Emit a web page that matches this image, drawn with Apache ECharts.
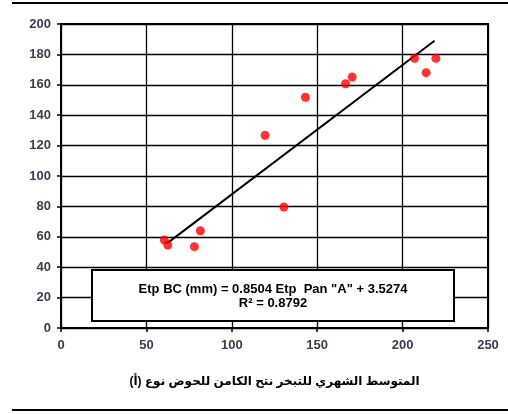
<!DOCTYPE html>
<html><head><meta charset="utf-8">
<script src="https://cdn.jsdelivr.net/npm/echarts@6/dist/echarts.min.js"></script>
<style>html,body{margin:0;padding:0;background:#fff}#c{width:508px;height:414px}</style>
</head><body><div id="c"></div>
<script>
const panX = [60.5, 62.5, 78.1, 81.6, 119.5, 130.5, 143.1, 166.6, 170.5, 207.0, 213.8, 219.5];
const bcY  = [57.9, 54.6, 53.5, 64.0, 126.8, 79.6, 151.8, 160.7, 165.1, 177.4, 168.0, 177.4];
const trendX = [62.1, 218.7];
const trendY = [55.7, 189.0];
const xTicks = [0, 50, 100, 150, 200, 250];
const yTicks = [0, 20, 40, 60, 80, 100, 120, 140, 160, 180, 200];
const eqLine1 = 'Etp BC (mm) = 0.8504 Etp  Pan "A" + 3.5274';
const eqLine2 = 'R² = 0.8792';
const xTitle = 'المتوسط الشهري للتبخر نتح الكامن للحوض نوع (أ)';

const chart = echarts.init(document.getElementById('c'), null, {renderer: 'canvas'});
const font = "'Liberation Sans', Arial, 'DejaVu Sans', sans-serif";
const labelColor = '#3c3c4c';
chart.setOption({
  animation: false,
  backgroundColor: '#fff',
  grid: {left: 61, right: 20, top: 24, bottom: 86, show: true, borderColor: '#000', borderWidth: 2, backgroundColor: 'transparent'},
  xAxis: {
    type: 'value', min: xTicks[0], max: xTicks[xTicks.length-1], interval: 50,
    axisLine: {show: true, onZero: false, lineStyle: {color: '#000', width: 2}},
    axisTick: {show: true, length: 4, lineStyle: {color: '#000', width: 1.5}},
    axisLabel: {color: labelColor, fontFamily: font, fontWeight: 'bold', fontSize: 13, margin: 11},
    splitLine: {show: true, lineStyle: {color: '#000', width: 1.3}},
    name: xTitle, nameLocation: 'middle', nameGap: 48,
    nameTextStyle: {color: '#000', fontFamily: font, fontWeight: 'bold', fontSize: 12}
  },
  yAxis: {
    type: 'value', min: yTicks[0], max: yTicks[yTicks.length-1], interval: 20,
    axisLine: {show: true, onZero: false, lineStyle: {color: '#000', width: 2}},
    axisTick: {show: true, length: 4, lineStyle: {color: '#000', width: 1.5}},
    axisLabel: {color: labelColor, fontFamily: font, fontWeight: 'bold', fontSize: 13, margin: 10},
    splitLine: {show: true, lineStyle: {color: '#000', width: 1.3}}
  },
  series: [
    {type: 'line', data: trendX.map((x, i) => [x, trendY[i]]), symbol: 'none', lineStyle: {color: '#000', width: 2}, z: 3},
    {type: 'scatter', data: panX.map((x, i) => [x, bcY[i]]), symbol: 'circle', symbolSize: 9, itemStyle: {color: '#ff0000'}, z: 4}
  ],
  graphic: [
    {type: 'rect', shape: {x: 12, y: 2, width: 496, height: 2}, style: {fill: '#000'}},
    {type: 'rect', shape: {x: 12, y: 409, width: 496, height: 2}, style: {fill: '#000'}},
    {type: 'rect', z: 10, shape: {x: 92, y: 270, width: 362, height: 51}, style: {fill: '#fff', stroke: '#000', lineWidth: 2}},
    {type: 'text', z: 11, x: 273, y: 289, style: {text: eqLine1, fill: '#000', font: "bold 13px " + font, textAlign: 'center', textVerticalAlign: 'middle'}},
    {type: 'text', z: 11, x: 273, y: 303, style: {text: eqLine2, fill: '#000', font: "bold 13px " + font, textAlign: 'center', textVerticalAlign: 'middle'}}
  ]
});
</script></body></html>
